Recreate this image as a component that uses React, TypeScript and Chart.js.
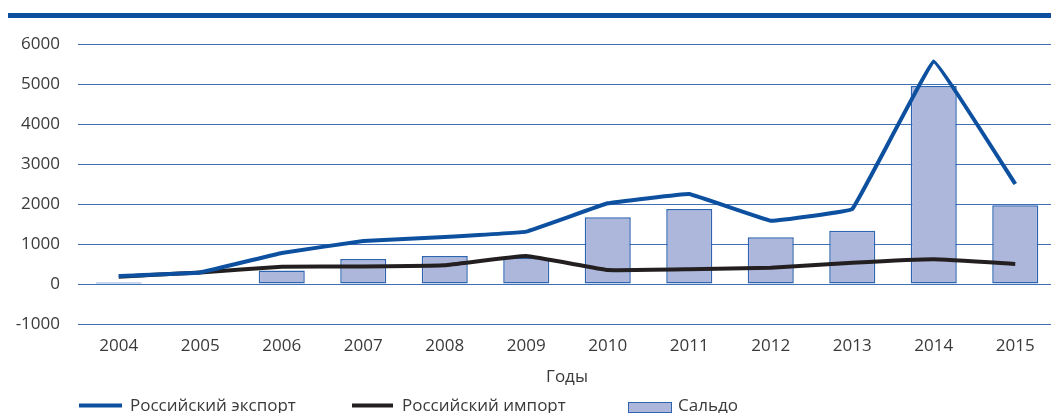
import React, { useEffect, useRef } from "react";
import { Chart, registerables } from "chart.js";

Chart.register(...registerables);

const years = ["2004", "2005", "2006", "2007", "2008", "2009", "2010", "2011", "2012", "2013", "2014", "2015"];
const exportValues = [200, 290, 775, 1075, 1175, 1310, 2017, 2250, 1583, 1875, 5560, 2500];
const importValues = [180, 290, 430, 440, 470, 700, 350, 367, 408, 530, 617, 500];
const saldoValues = [40, 0, 340, 625, 700, 650, 1667, 1875, 1167, 1333, 4950, 1967];
const exportLabel = "Российский экспорт";
const importLabel = "Российский импорт";
const saldoLabel = "Сальдо";
const axisTitle = "Годы";

const FONT = "'Open Sans', 'Noto Sans', sans-serif";
const FS = 17;
const TEXT = "#3a3a3a";
const BLUE = "#0d50a0";
const BLACK = "#231f20";
const BAR_FILL = "#adb6db";
const BAR_BORDER = "#2f64b0";
const GRID = "#3f6fb5";

const decorPlugin = {
  id: "decor",
  afterDraw(chart: any) {
    const ctx = chart.ctx;
    ctx.save();
    ctx.fillStyle = BLUE;
    ctx.fillRect(8, 13, 1050, 5);

    ctx.font = `${FS}px ${FONT}`;
    ctx.textBaseline = "alphabetic";
    ctx.textAlign = "left";
    const ly = 405.5;
    const ty = 411;
    ctx.lineWidth = 4;
    ctx.strokeStyle = BLUE;
    ctx.beginPath();
    ctx.moveTo(79, ly);
    ctx.lineTo(122, ly);
    ctx.stroke();
    ctx.fillStyle = TEXT;
    ctx.fillText(chart.data.datasets[0].label, 130, ty);

    ctx.strokeStyle = BLACK;
    ctx.beginPath();
    ctx.moveTo(352, ly);
    ctx.lineTo(393, ly);
    ctx.stroke();
    ctx.fillText(chart.data.datasets[1].label, 402, ty);

    ctx.fillStyle = BAR_FILL;
    ctx.fillRect(628.5, 402.5, 43, 10);
    ctx.lineWidth = 1;
    ctx.strokeStyle = BAR_BORDER;
    ctx.strokeRect(628.5, 402.5, 43, 10);
    ctx.fillStyle = TEXT;
    ctx.fillText(chart.data.datasets[2].label, 678, ty);
    ctx.restore();
  },
};

export default function App() {
  const ref = useRef<HTMLCanvasElement | null>(null);
  useEffect(() => {
    if (!ref.current) return;
    const chart = new Chart(ref.current, {
      type: "bar",
      data: {
        labels: years,
        datasets: [
          {
            type: "line",
            label: exportLabel,
            data: exportValues,
            borderColor: BLUE,
            backgroundColor: BLUE,
            borderWidth: 4,
            pointRadius: 0,
            tension: 0.05,
            order: 0,
          } as any,
          {
            type: "line",
            label: importLabel,
            data: importValues,
            borderColor: BLACK,
            backgroundColor: BLACK,
            borderWidth: 4,
            pointRadius: 0,
            tension: 0.08,
            order: 1,
          } as any,
          {
            type: "bar",
            label: saldoLabel,
            data: saldoValues,
            backgroundColor: BAR_FILL,
            borderColor: BAR_BORDER,
            borderWidth: 1.5,
            borderSkipped: false,
            barPercentage: 0.565,
            categoryPercentage: 1,
            order: 2,
          } as any,
        ],
      },
      options: {
        responsive: false,
        animation: false,
        layout: { padding: { top: 44, bottom: 23, left: 0, right: 0 } },
        plugins: { legend: { display: false }, tooltip: { enabled: false } },
        scales: {
          x: {
            grid: { display: false, drawTicks: false },
            border: { display: false },
            ticks: { color: TEXT, font: { family: FONT, size: FS }, padding: 12, maxRotation: 0 },
            title: { display: true, text: axisTitle, color: TEXT, font: { family: FONT, size: FS }, padding: { top: 0, bottom: 3 } },
            afterFit: (s: any) => { s.height = 66; },
          },
          y: {
            min: -1000,
            max: 6000,
            grid: { color: GRID, lineWidth: 1, drawTicks: false },
            border: { display: false },
            ticks: {
              stepSize: 1000,
              color: TEXT,
              font: { family: FONT, size: FS },
              padding: 18,
              callback: (v: any) => String(v),
            },
            afterFit: (s: any) => { s.width = 78; },
          },
        },
      },
      plugins: [decorPlugin],
    });
    return () => chart.destroy();
  }, []);
  return (
    <div style={{ position: "fixed", left: 0, top: 0, width: 1051, height: 413, overflow: "hidden", background: "#fff" }}>
      <canvas ref={ref} width={1056} height={413} style={{ display: "block" }} />
    </div>
  );
}
